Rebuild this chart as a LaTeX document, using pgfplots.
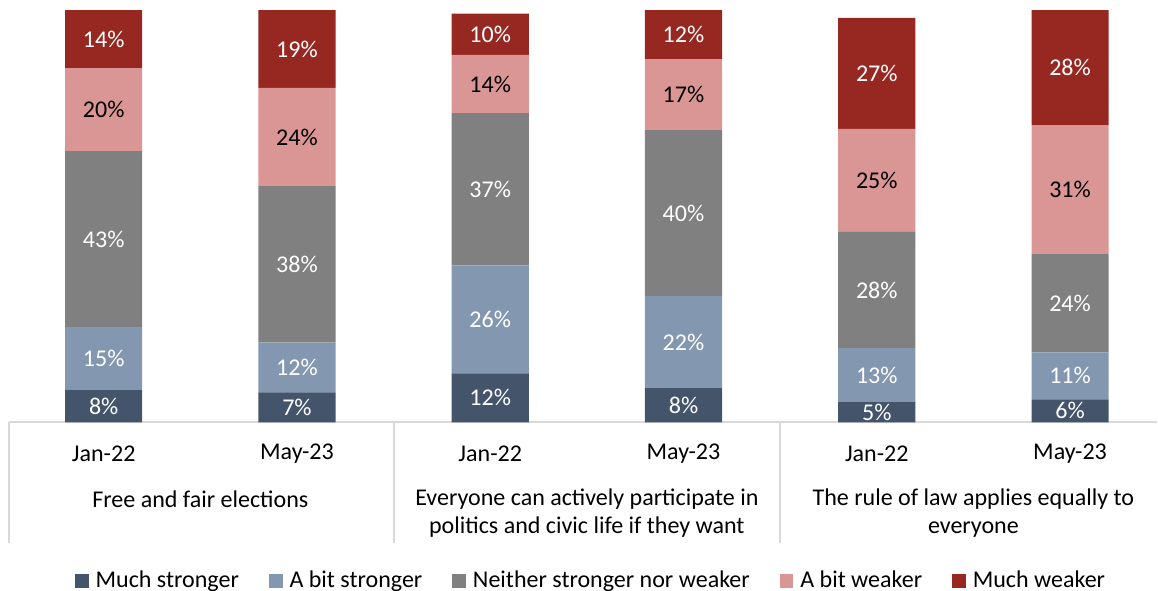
\documentclass[border=0pt]{standalone}
\usepackage{pgfplots}
\pgfplotsset{compat=1.18}
\usepackage{fontspec}
\setmainfont{Carlito}
\definecolor{cMS}{HTML}{44546A}
\definecolor{cBS}{HTML}{8497B0}
\definecolor{cN}{HTML}{808080}
\definecolor{cBW}{HTML}{DA9694}
\definecolor{cMW}{HTML}{962721}
\definecolor{frame}{HTML}{D9D9D9}
\begin{document}
\begin{tikzpicture}[font=\fontsize{12}{14}\selectfont]
\pgfplotsset{
  base/.style={scale only axis, width=573.5pt, height=206pt,
    xmin=-0.49, xmax=5.45, ymin=0, ymax=100, clip=false}
}
\begin{axis}[base, ybar stacked, bar width=38.5pt,
  axis y line=none, axis x line*=bottom,
  x axis line style={draw=frame, line width=1pt, -},
  xtick={0,1,2,3,4,5},
  xticklabels={Jan-22,May-23,Jan-22,May-23,Jan-22,May-23},
  major tick length=0pt,
  xticklabel style={anchor=center, yshift=-15.5pt},
  legend columns=5,
  legend style={at={(axis description cs:0.507,-0.384)}, anchor=center,
    draw=none, fill=none, inner sep=0pt,
    nodes={inner sep=1pt},
    /tikz/every odd column/.append style={column sep=2.5pt},
    /tikz/every even column/.append style={column sep=14pt}},
  legend image code/.code={\fill[#1,draw=none] (0pt,-3.6pt) rectangle (6.8pt,3.2pt);},
]
\addplot[fill=cMS, draw=none] coordinates {(0,7.8) (1,7.3) (2,11.9) (3,8.3) (4,4.9) (5,5.6)};
\addplot[fill=cBS, draw=none] coordinates {(0,15.3) (1,12.1) (2,26.2) (3,22.3) (4,13.1) (5,11.4)};
\addplot[fill=cN, draw=none] coordinates {(0,42.7) (1,37.9) (2,36.9) (3,40.3) (4,28.2) (5,23.8)};
\addplot[fill=cBW, draw=none] coordinates {(0,20.1) (1,23.8) (2,14.1) (3,17.2) (4,25.0) (5,31.3)};
\addplot[fill=cMW, draw=none] coordinates {(0,14.1) (1,18.9) (2,10.0) (3,11.9) (4,26.9) (5,27.9)};
\legend{Much stronger, A bit stronger, Neither stronger nor weaker, A bit weaker, Much weaker}
\draw[frame, line width=1pt] (axis cs:-0.49,0) -- ++(0pt,-60.5pt);
\draw[frame, line width=1pt] (axis cs:1.503,0) -- ++(0pt,-60.5pt);
\draw[frame, line width=1pt] (axis cs:3.5,0) -- ++(0pt,-60.5pt);
\node[anchor=center, yshift=-38.5pt] at (axis cs:0.5,0) {Free and fair elections};
\node[anchor=center, align=center, yshift=-45.5pt] at (axis cs:2.5,0) {Everyone can actively participate in\\politics and civic life if they want};
\node[anchor=center, align=center, yshift=-45.5pt] at (axis cs:4.5,0) {The rule of law applies equally to\\everyone};
\coordinate (BL) at (rel axis cs:0,0);
\coordinate (TR) at (rel axis cs:1,1);
\end{axis}
\begin{axis}[base, hide axis, nodes near coords, point meta=explicit symbolic,
  every node near coord/.append style={anchor=center, inner sep=0pt}]
\addplot[only marks, mark=*, mark size=0pt, mark options={draw=none, fill=none},
  nodes near coords style={text=white}] coordinates {
  (0,3.9) [8\%] (1,3.65) [7\%] (2,5.95) [12\%] (3,4.15) [8\%] (4,2.45) [5\%] (5,2.8) [6\%]};
\addplot[only marks, mark=*, mark size=0pt, mark options={draw=none, fill=none},
  nodes near coords style={text=white}] coordinates {
  (0,15.45) [15\%] (1,13.35) [12\%] (2,25.0) [26\%] (3,19.45) [22\%] (4,11.45) [13\%] (5,11.3) [11\%]};
\addplot[only marks, mark=*, mark size=0pt, mark options={draw=none, fill=none},
  nodes near coords style={text=white}] coordinates {
  (0,44.45) [43\%] (1,38.35) [38\%] (2,56.55) [37\%] (3,50.75) [40\%] (4,32.1) [28\%] (5,28.9) [24\%]};
\addplot[only marks, mark=*, mark size=0pt, mark options={draw=none, fill=none},
  nodes near coords style={text=black}] coordinates {
  (0,75.85) [20\%] (1,69.2) [24\%] (2,82.05) [14\%] (3,79.5) [17\%] (4,58.7) [25\%] (5,56.45) [31\%]};
\addplot[only marks, mark=*, mark size=0pt, mark options={draw=none, fill=none},
  nodes near coords style={text=white}] coordinates {
  (0,92.95) [14\%] (1,90.55) [19\%] (2,94.1) [10\%] (3,94.05) [12\%] (4,84.65) [27\%] (5,86.05) [28\%]};
\end{axis}
\pgfresetboundingbox
\path[use as bounding box] ([xshift=-4.5pt,yshift=-84pt]BL) rectangle ([xshift=0.5pt,yshift=5pt]TR);
\end{tikzpicture}
\end{document}
